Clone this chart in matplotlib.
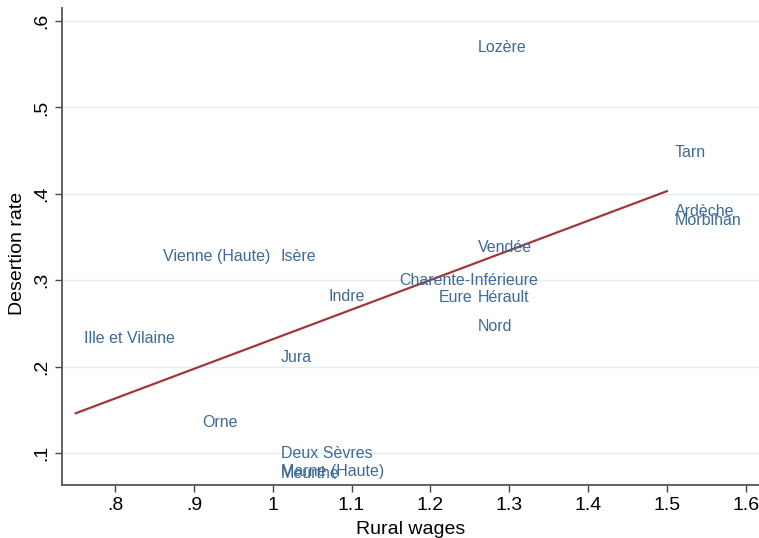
import matplotlib
matplotlib.use("Agg")
import matplotlib.pyplot as plt

plt.rcParams["font.family"] = ["Liberation Sans", "DejaVu Sans"]

# departments: rural wages vs desertion rate
departments = ["Lozère", "Tarn", "Ardèche", "Morbihan", "Vendée", "Vienne (Haute)",
               "Isère", "Indre", "Charente-Inférieure", "Eure", "Hérault", "Nord",
               "Ille et Vilaine", "Jura", "Orne", "Deux Sèvres", "Marne (Haute)", "Meurthe"]
wages = [1.25, 1.50, 1.50, 1.50, 1.25, 0.85,
         1.00, 1.06, 1.15, 1.20, 1.25, 1.25,
         0.75, 1.00, 0.90, 1.00, 1.00, 1.00]
desertion = [0.569, 0.448, 0.380, 0.369, 0.338, 0.328,
             0.328, 0.281, 0.300, 0.280, 0.280, 0.246,
             0.233, 0.210, 0.135, 0.100, 0.079, 0.076]

# fitted line endpoints
fit_x = [0.75, 1.50]
fit_y = [0.146, 0.403]

x_ticks = [0.8, 0.9, 1.0, 1.1, 1.2, 1.3, 1.4, 1.5, 1.6]
x_labels = [".8", ".9", "1", "1.1", "1.2", "1.3", "1.4", "1.5", "1.6"]
y_ticks = [0.1, 0.2, 0.3, 0.4, 0.5, 0.6]
y_labels = [".1", ".2", ".3", ".4", ".5", ".6"]

fig = plt.figure(figsize=(7.59, 5.38), dpi=100)
ax = fig.add_axes([62.3 / 759, 1 - 485 / 538, 1 - 62.3 / 759, 477 / 538])

for yv in y_ticks:
    ax.axhline(yv, color="#e4edf2", linewidth=1, zorder=0)

ax.plot(fit_x, fit_y, color="#a3363c", linewidth=1.6, zorder=2)

# labels sit right of the (invisible) points, as in Stata's mlabel
for name, xv, yv in zip(departments, wages, desertion):
    ax.annotate(name, (xv, yv), xytext=(5.8, 0), textcoords="offset points",
                ha="left", va="center", fontsize=11.5, color="#3f6a96", zorder=3)

ax.set_xlim(0.733, 1.617)
ax.set_ylim(0.063, 0.615)
ax.set_xticks(x_ticks)
ax.set_xticklabels(x_labels)
ax.set_yticks(y_ticks)
ax.set_yticklabels(y_labels, rotation=90, va="center")
ax.tick_params(labelsize=14, length=5, width=1, color="#444444", pad=4)

ax.spines["top"].set_visible(False)
ax.spines["right"].set_visible(False)
ax.spines["left"].set_color("#555555")
ax.spines["bottom"].set_color("#555555")
ax.spines["left"].set_linewidth(1.3)
ax.spines["bottom"].set_linewidth(1.3)

ax.set_xlabel("Rural wages", fontsize=14)
ax.xaxis.set_label_coords(0.5, -0.075)
ax.set_ylabel("Desertion rate", fontsize=14)
ax.yaxis.set_label_coords(-0.052, 0.486)

fig.savefig("out.png", dpi=100)
